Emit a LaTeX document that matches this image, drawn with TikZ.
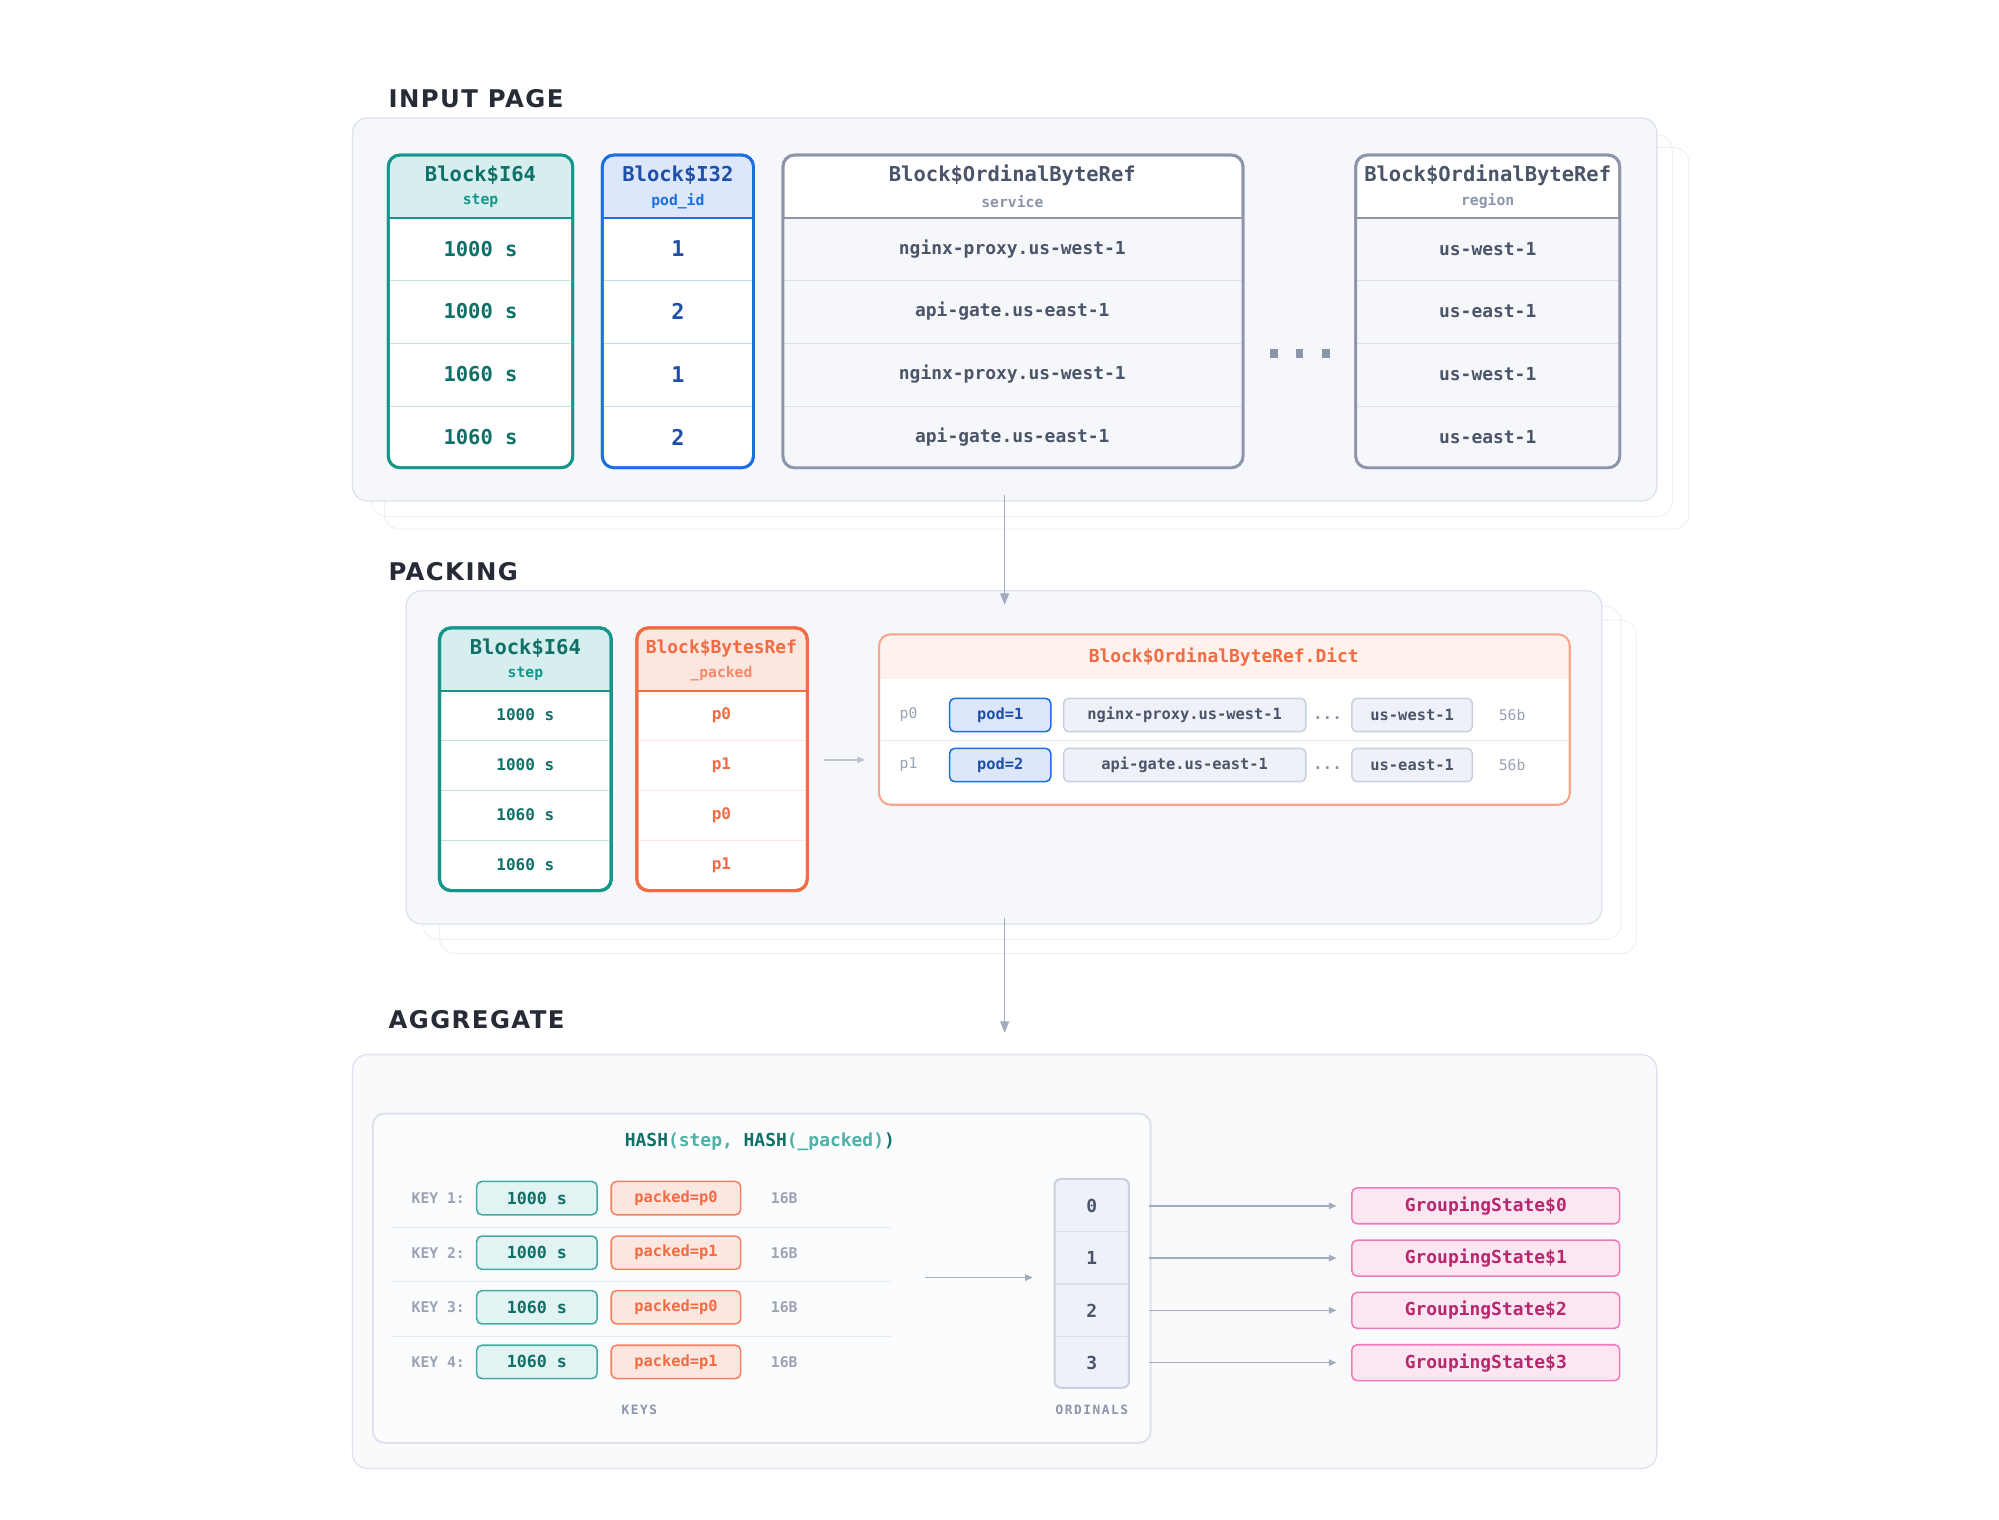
\documentclass[tikz,border=0pt]{standalone}
\usepackage{fontspec}
\setmainfont{DejaVu Sans}
\setmonofont{DejaVu Sans Mono}
\newfontfamily\ttl{DejaVu Sans}[LetterSpace=6]
\newfontfamily\smallsp{DejaVu Sans Mono}[LetterSpace=12]
\usetikzlibrary{arrows.meta}
\definecolor{panelfill}{HTML}{F6F7FB}
\definecolor{panelline}{HTML}{DDE2EE}
\definecolor{teal}{HTML}{14968A}
\definecolor{tealfill}{HTML}{D6EEEE}
\definecolor{tealtx}{HTML}{0F7068}
\definecolor{tealsep}{HTML}{BFE3E0}
\definecolor{blue}{HTML}{1B6FE0}
\definecolor{bluefill}{HTML}{DCE7FB}
\definecolor{bluetx}{HTML}{1E4FA8}
\definecolor{bluesep}{HTML}{C5D8F5}
\definecolor{gry}{HTML}{8C95A9}
\definecolor{grytx}{HTML}{4B5569}
\definecolor{grysep}{HTML}{DADFE9}
\definecolor{lgtx}{HTML}{9AA2B4}
\definecolor{orng}{HTML}{F26B43}
\definecolor{orngfill}{HTML}{FBE6E0}
\definecolor{orngl}{HTML}{F7A68C}
\definecolor{orngpale}{HTML}{FFF1EC}
\definecolor{boxfill}{HTML}{EEF1F8}
\definecolor{boxline}{HTML}{C9CFDD}
\definecolor{pink}{HTML}{F07AB8}
\definecolor{pinkfill}{HTML}{FBE6F1}
\definecolor{pinktx}{HTML}{B8266E}
\definecolor{arr}{HTML}{A3ABBE}
\definecolor{ttlc}{HTML}{262B36}
\tikzset{
 x=1pt,y=-1pt,
 title/.style={anchor=base west,font=\ttl\bfseries\fontsize{19}{19}\selectfont,text=ttlc,inner sep=0},
 panel/.style={rounded corners=12,fill=panelfill,draw=panelline,line width=1},
 ghost/.style={rounded corners=12,draw=panelline!50,line width=0.8},
 val/.style={font=\ttfamily\bfseries\fontsize{16}{16}\selectfont,inner sep=0},
 sval/.style={font=\ttfamily\bfseries\fontsize{12.5}{13}\selectfont,inner sep=0},
 xs/.style={font=\ttfamily\fontsize{11.5}{12}\selectfont,inner sep=0},
 hd/.style={font=\ttfamily\bfseries\fontsize{16}{16}\selectfont,inner sep=0},
 sub/.style={font=\ttfamily\bfseries\fontsize{11.5}{12}\selectfont,inner sep=0},
 flow/.style={draw=arr,line width=1.2,-{Triangle[length=9,width=7]}},
 small/.style={draw=arr,line width=1.2,-{Triangle[length=6,width=5]}},
 chip/.style={rounded corners=4,line width=1.2,inner sep=0,font=\ttfamily\bfseries\fontsize{12}{12}\selectfont},
}
\newcommand\mycol[9]{%
 \begin{scope}
 \clip[rounded corners=9] (#2,#4) rectangle (#3,#6);
 \fill[white] (#2,#4) rectangle (#3,#6);
 \fill[#8] (#2,#4) rectangle (#3,#5);
 \draw[#7,line width=1.6] (#2,#5) -- (#3,#5);
 \end{scope}
 \draw[#7,line width=#9,rounded corners=9] (#2,#4) rectangle (#3,#6);
 \coordinate (#1) at ({(#2+#3)/2},#4);
}
\begin{document}
\begin{tikzpicture}
\useasboundingbox[fill=white] (0,0) rectangle (1560,1186);
% ===== INPUT PAGE
\node[title] (t1) at (303,84) {INPUT PAGE};
\draw[ghost] (300,115) rectangle (1318,413);
\draw[ghost] (290,105) rectangle (1305,403);
\draw[panel] (275,92) rectangle (1293,391);
\mycol{c1}{303}{447}{121}{170}{365}{teal}{tealfill}{2.2}
\mycol{c2}{470}{588}{121}{170}{365}{blue}{bluefill}{2.2}
\mycol{c3}{611}{970}{121}{170}{365}{gry}{white}{2.2}
\mycol{c4}{1058}{1264}{121}{170}{365}{gry}{white}{2.2}
\begin{scope}
\clip[rounded corners=9] (611,121) rectangle (970,365); \fill[panelfill] (611,171) rectangle (970,365);
\end{scope}
\begin{scope}
\clip[rounded corners=9] (1058,121) rectangle (1264,365); \fill[panelfill] (1058,171) rectangle (1264,365);
\end{scope}
\foreach \y in {219,268,317}{
 \draw[tealsep,line width=1] (304,\y) -- (446,\y);
 \draw[bluesep,line width=1] (471,\y) -- (587,\y);
 \draw[grysep,line width=1] (612,\y) -- (969,\y);
 \draw[grysep,line width=1] (1059,\y) -- (1263,\y);
}
\draw[teal,line width=2.2,rounded corners=9] (303,121) rectangle (447,365);
\draw[blue,line width=2.2,rounded corners=9] (470,121) rectangle (588,365);
\draw[gry,line width=2.2,rounded corners=9] (611,121) rectangle (970,365);
\draw[gry,line width=2.2,rounded corners=9] (1058,121) rectangle (1264,365);
\node[hd,text=tealtx] (h1) at (375,137) {Block\$I64};
\node[sub,text=teal] (s1) at (375,157) {step};
\node[hd,text=bluetx] (h2) at (529,137) {Block\$I32};
\node[sub,text=blue] (s2) at (529,157) {pod\_id};
\node[hd,text=grytx] (h3) at (790,137) {Block\$OrdinalByteRef};
\node[sub,text=gry] (s3) at (790,157) {service};
\node[hd,text=grytx] (h4) at (1161,137) {Block\$OrdinalByteRef};
\node[sub,text=gry] (s4) at (1161,157) {region};
\foreach \t [count=\i] in {1000 s,1000 s,1060 s,1060 s}
 \node[val,text=tealtx] (a\i) at (375,{194+49*(\i-1)}) {\t};
\foreach \t [count=\i] in {1,2,1,2}
 \node[val,font=\ttfamily\bfseries\fontsize{17}{17}\selectfont,text=bluetx] (b\i) at (529,{194+49*(\i-1)}) {\t};
\foreach \t [count=\i] in {nginx-proxy.us-west-1,api-gate.us-east-1,nginx-proxy.us-west-1,api-gate.us-east-1}
 \node[sval,font=\ttfamily\bfseries\fontsize{14}{14}\selectfont,text=grytx] (d\i) at (790,{194+49*(\i-1)}) {\t};
\foreach \t [count=\i] in {us-west-1,us-east-1,us-west-1,us-east-1}
 \node[sval,font=\ttfamily\bfseries\fontsize{14}{14}\selectfont,text=grytx] (e\i) at (1161,{194+49*(\i-1)}) {\t};
\foreach \x in {994,1014,1035} \fill[gry] (\x-3,272) rectangle (\x+3,279);
% ===== PACKING
\node[title] (t2) at (303,453) {PACKING};
\draw[ghost] (343,484) rectangle (1277,744);
\draw[ghost] (330,473) rectangle (1265,733);
\draw[panel] (317,461) rectangle (1250,721);
\coordinate (p1s) at (784,386);
\coordinate (p1e) at (784,472);
\draw[flow] (p1s) -- (p1e);
\mycol{k1}{343}{477}{490}{539}{695}{teal}{tealfill}{2.4}
\mycol{k2}{497}{630}{490}{539}{695}{orng}{orngfill}{2.4}
\foreach \y in {578,617,656}{
 \draw[tealsep,line width=1] (344,\y) -- (476,\y);
 \draw[orngfill,line width=1] (498,\y) -- (629,\y);
}
\draw[teal,line width=2.4,rounded corners=9] (343,490) rectangle (477,695);
\draw[orng,line width=2.4,rounded corners=9] (497,490) rectangle (630,695);
\node[hd,text=tealtx] (h5) at (410,506) {Block\$I64};
\node[sub,text=teal] (s5) at (410,526) {step};
\node[hd,font=\ttfamily\bfseries\fontsize{14}{14}\selectfont,text=orng] (h6) at (563,506) {Block\$BytesRef};
\node[sub,text=orng!80] (s6) at (563,526) {\_packed};
\foreach \t [count=\i] in {1000 s,1000 s,1060 s,1060 s}
 \node[sval,text=tealtx] (f\i) at (410,{558+39*(\i-1)}) {\t};
\foreach \t [count=\i] in {p0,p1,p0,p1}
 \node[sval,text=orng] (g\i) at (563,{558+39*(\i-1)}) {\t};
\coordinate (m1) at (643,593);
\coordinate (m2) at (675,593);
\draw[small,draw=arr!70] (m1) -- (m2);
\begin{scope}
\clip[rounded corners=9] (686,495) rectangle (1225,628);
\fill[white] (686,495) rectangle (1225,628);
\fill[orngpale] (686,495) rectangle (1225,530);
\end{scope}
\draw[orngl,line width=1.6,rounded corners=9] (686,495) rectangle (1225,628);
\node[sval,font=\ttfamily\bfseries\fontsize{14}{14}\selectfont,text=orng] (dt) at (955,513) {Block\$OrdinalByteRef.Dict};
\draw[grysep!70,line width=1] (687,578) -- (1224,578);
\foreach \p/\pod/\svc/\reg/\y in {0/1/nginx-proxy.us-west-1/us-west-1/558,1/2/api-gate.us-east-1/us-east-1/597}{
 \node[xs,text=lgtx] (pl\p) at (709,\y) {p\p};
 \node[chip,draw=blue,fill=bluefill,text=bluetx,minimum width=79,minimum height=26] (pd\p) at (780.5,\y) {pod=\pod};
 \node[chip,draw=boxline,fill=boxfill,text=grytx,minimum width=189,minimum height=26] (sv\p) at (924.5,\y) {\svc};
 \node[sval,text=gry] (dd\p) at (1036,\y+2) {...};
 \node[chip,draw=boxline,fill=boxfill,text=grytx,minimum width=94,minimum height=26] (rg\p) at (1102,\y) {\reg};
 \node[xs,text=lgtx] (sz\p) at (1180,\y) {56b};
}
% ===== AGGREGATE
\node[title] (t3) at (303,803) {AGGREGATE};
\draw[panel,fill=panelfill!60] (275,823) rectangle (1293,1146);
\coordinate (p2s) at (784,716);
\coordinate (p2e) at (784,806);
\draw[flow] (p2s) -- (p2e);
\draw[rounded corners=9,draw=panelline,line width=1.6,fill=panelfill!40] (291,869) rectangle (898,1126);
\node[font=\ttfamily\bfseries\fontsize{14}{14}\selectfont,inner sep=0] (hash) at (593,891) {\textcolor{tealtx}{HASH}\textcolor{teal!75}{(step,} \textcolor{tealtx}{HASH}\textcolor{teal!75}{(\_packed)}\textcolor{tealtx}{)}};
\foreach \y in {958,1000,1043} \draw[grysep!70,line width=1] (305,\y) -- (695,\y);
\foreach \v/\pp [count=\i] in {1000 s/p0,1000 s/p1,1060 s/p0,1060 s/p1}{
 \pgfmathsetmacro\yy{935+42.6*(\i-1)}
 \node[xs,text=lgtx,font=\ttfamily\bfseries\fontsize{11.5}{12}\selectfont] (kl\i) at (342,\yy) {KEY \i:};
 \node[chip,draw=teal!80,fill=tealfill!70,text=tealtx,minimum width=94,minimum height=26,font=\ttfamily\bfseries\fontsize{13}{13}\selectfont] (kv\i) at (419,\yy) {\v};
 \node[chip,draw=orng!85,fill=orngfill,text=orng,minimum width=101,minimum height=26] (kp\i) at (527.5,\yy) {packed=\pp};
 \node[xs,text=lgtx,font=\ttfamily\bfseries\fontsize{11.5}{12}\selectfont] (kb\i) at (612,\yy) {16B};
}
\node[sub,text=gry,font=\smallsp\bfseries\fontsize{10}{10}\selectfont] (keys) at (499,1100) {KEYS};
\coordinate (m3) at (722,997);
\coordinate (m4) at (806,997);
\draw[small] (m3) -- (m4);
\draw[rounded corners=5,draw=boxline,fill=boxfill,line width=1.6] (823,920) rectangle (881,1083);
\foreach \y in {961,1002,1043} \draw[grysep,line width=1] (824,\y) -- (880,\y);
\node[sub,text=gry,font=\smallsp\bfseries\fontsize{10}{10}\selectfont] (ordl) at (852,1100) {ORDINALS};
\foreach \i in {0,1,2,3}{
 \pgfmathsetmacro\yy{941+40.8*\i}
 \node[val,font=\ttfamily\bfseries\fontsize{14}{14}\selectfont,text=grytx] (o\i) at (852,\yy) {\i};
 \node[chip,draw=pink,fill=pinkfill,text=pinktx,minimum width=209,minimum height=28,font=\ttfamily\bfseries\fontsize{14}{14}\selectfont] (gs\i) at (1159.5,\yy) {GroupingState\$\i};
 \coordinate (oa\i) at (897,\yy);
 \coordinate (ob\i) at (1043,\yy);
 \draw[small] (oa\i) -- (ob\i);
}
\end{tikzpicture}
\end{document}
